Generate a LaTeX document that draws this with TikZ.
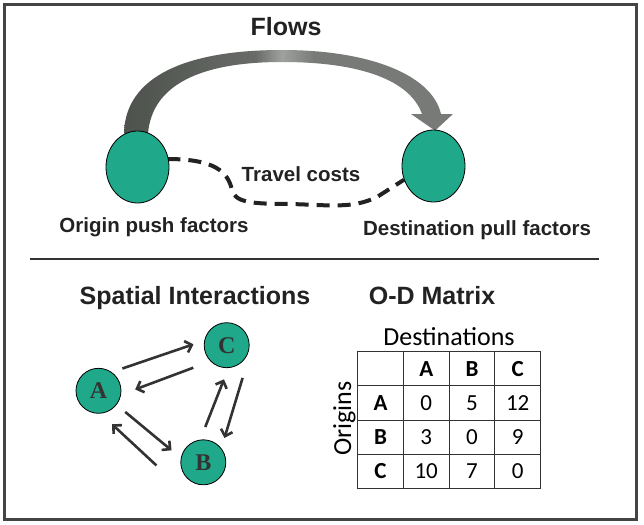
\documentclass[tikz,border=0pt]{standalone}
\usepackage{fontspec}
\setmainfont{Liberation Sans}
\newfontfamily\calfont{Carlito}
\newfontfamily\seriffont{Liberation Serif}
\usetikzlibrary{shapes.geometric,arrows.meta,calc,matrix}
\pgfdeclarelayer{bg}
\pgfsetlayers{bg,main}
\definecolor{tealfill}{HTML}{20A88A}
\definecolor{frcol}{HTML}{444444}
\definecolor{ink}{HTML}{222222}
\definecolor{arrcol}{HTML}{333333}
\definecolor{flowdk}{HTML}{4E524D}
\definecolor{flowa}{HTML}{686B67}
\definecolor{flowhl}{HTML}{9FA19F}
\definecolor{flowrt}{HTML}{777A76}
\pgfdeclarehorizontalshading{flowshade}{100bp}{color(0bp)=(flowdk); color(25bp)=(flowdk); color(45bp)=(flowa); color(49bp)=(flowhl); color(54bp)=(flowrt); color(75bp)=(flowrt); color(100bp)=(flowrt)}
\begin{document}
\begin{tikzpicture}[x=1pt,y=-1pt,
  title/.style={font=\bfseries\fontsize{25}{25}\selectfont, text=ink, inner sep=0pt},
  lab/.style={font=\bfseries\fontsize{20.5}{20.5}\selectfont, text=ink, inner sep=0pt},
  ell/.style={ellipse, draw=black, line width=0.8pt, fill=tealfill, minimum width=63pt, minimum height=72pt, inner sep=0pt},
  sn/.style={circle, draw=black, line width=0.8pt, fill=tealfill, minimum size=45pt, inner sep=0pt, font=\seriffont\bfseries\fontsize{24}{24}\selectfont, text=arrcol},
  arr/.style={draw=arrcol, line width=2.6pt, -{Straight Barb[length=6pt,width=12pt]}},
  cell/.style={draw=arrcol, line width=1.2pt, minimum width=45.75pt, minimum height=34.25pt, inner sep=0pt, font=\calfont\fontsize{23}{23}\selectfont, text height=15pt, text depth=0pt, anchor=center},
  hdr/.style={font=\calfont\bfseries\fontsize{23}{23}\selectfont},
  dashcon/.style={draw=ink, line width=4pt, dash pattern=on 13pt off 8pt}
]
\useasboundingbox (0,0) rectangle (644,524);

% ---- Flows ----
\node[title, anchor=base] (flows) at (286,36) {Flows};
\node[ell] (O) at (137.5,167) {};
\node[ell] (D) at (433.5,166) {};

\begin{pgfonlayer}{bg}
\fill[white] (0,0) rectangle (644,524);
\draw[frcol, line width=3pt] (4.5,5) rectangle (636.5,519);
\shade[shading=flowshade]
  ($(O.north)+(-13.5,3)$) .. controls (125,76) and (187,50) .. (282,50)
  .. controls (370,50) and (432,75) .. (441,114)
  -- (453,114) -- ($(D.north)+(1.5,1)$) -- (411,114) -- (422,114)
  .. controls (410,80) and (360,62) .. (282,62)
  .. controls (200,62) and (152,85) .. ($(O.north)+(10.5,3)$) -- cycle;
\draw[dashcon] ($(O.east)+(-2,-8)$) .. controls (215,159) and (228,172) .. (232,190)
  .. controls (235,202) and (250,204) .. (290,204)
  .. controls (330,205) and (352,209) .. (377,197) -- (D.205);
\end{pgfonlayer}

\node[lab, anchor=base] (tc) at (301,181) {Travel costs};
\node[lab, anchor=base] (opf) at (154,232.5) {Origin push factors};
\node[lab, anchor=base] (dpf) at (477,235) {Destination pull factors};

\draw[arrcol, line width=2pt] (30,259.3) -- (599,259.3);

% ---- Spatial interactions ----
\node[title, anchor=base] (si) at (195,304.5) {Spatial Interactions};
\node[sn] (A) at (98.5,390.8) {A};
\node[sn] (B) at (203.3,462.3) {B};
\node[sn] (C) at (226.7,345.2) {C};

\draw[arr] ($(A)!30pt!(C)!13pt!90:(C)$) -- ($(C)!31pt!(A)!12pt!-90:(A)$);
\draw[arr] ($(C)!39pt!(A)!10pt!90:(A)$) -- ($(A)!35pt!(C)!11pt!-90:(C)$);
\draw[arr] ($(A)!34pt!(B)!2.4pt!-90:(B)$) -- ($(B)!33pt!(A)!8pt!90:(A)$);
\draw[arr] ($(B)!37pt!(A)!29pt!90:(A)$) -- ($(A)!30pt!(B)!20pt!-90:(B)$);
\draw[arr] ($(B)!35pt!(C)!5pt!90:(C)$) -- ($(C)!34pt!(B)!4pt!90:(B)$);
\draw[arr] ($(C)!29pt!(B)!22pt!90:(B)$) -- ($(B)!28pt!(C)!16pt!-90:(C)$);

% ---- O-D matrix ----
\node[title, anchor=base] (od) at (432,304.5) {O-D Matrix};
\node[font=\calfont\fontsize{26}{26}\selectfont, text=black, inner sep=0pt, anchor=base] (dest) at (449,345) {Destinations};
\node[font=\calfont\fontsize{26}{26}\selectfont, text=black, inner sep=0pt, anchor=base, rotate=90] (orig) at (351,418.5) {Origins};
\matrix (M) [matrix of nodes, nodes in empty cells, anchor=north west, inner sep=0pt, outer sep=0pt,
  column sep=-1.2pt, row sep=-1.2pt, nodes={cell}] at (357,351) {
  & |[hdr]| A & |[hdr]| B & |[hdr]| C \\
  |[hdr]| A & 0 & 5 & 12 \\
  |[hdr]| B & 3 & 0 & 9 \\
  |[hdr]| C & 10 & 7 & 0 \\
};
\end{tikzpicture}
\end{document}
